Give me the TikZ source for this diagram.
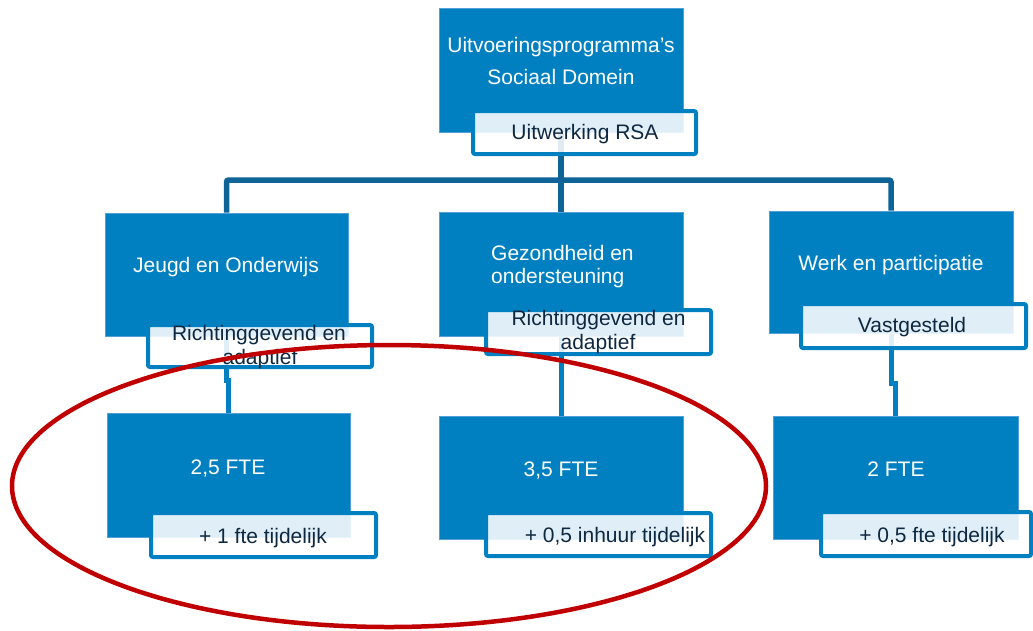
\documentclass[tikz,border=0pt]{standalone}
\usepackage{fontspec}
\setmainfont{Liberation Sans}
\usetikzlibrary{backgrounds}
\definecolor{boxblue}{RGB}{0,128,192}
\definecolor{boxedge}{RGB}{80,160,215}
\definecolor{treeblue}{RGB}{14,99,151}
\definecolor{navy}{RGB}{14,40,65}
\definecolor{ringred}{RGB}{192,0,0}
\tikzset{
  bluebox/.style={rectangle, fill=boxblue, draw=boxedge, line width=0.8pt, inner sep=0pt},
  labbox/.style={rectangle, fill=white, fill opacity=0.88, draw=boxblue, draw opacity=1, line width=4pt, rounded corners=2pt, inner sep=0pt},
  wtxt/.style={text=white, font=\fontsize{21pt}{25pt}\selectfont, inner sep=0pt, anchor=mid, yshift=-5pt},
  dtxt/.style={text=navy, font=\fontsize{21pt}{25pt}\selectfont, inner sep=0pt, anchor=mid, yshift=-5pt},
  tree/.style={draw=treeblue, line width=5.5pt, rounded corners=2pt},
  link/.style={draw=boxblue, line width=5pt},
  ring/.style={draw=ringred, line width=4.5pt}
}
\begin{document}
\begin{tikzpicture}[x=1pt,y=-1pt]
\useasboundingbox (0,0) rectangle (1033,630);
% blue boxes
\node[bluebox, minimum width=244pt, minimum height=124pt] (top) at (561,70) {};
\node[bluebox, minimum width=243pt, minimum height=123pt] (jeugd) at (226.5,274.5) {};
\node[bluebox, minimum width=244pt, minimum height=124pt] (gez) at (561,274) {};
\node[bluebox, minimum width=244pt, minimum height=122pt] (werk) at (891,272) {};
\node[bluebox, minimum width=243pt, minimum height=124pt] (fte1) at (228.5,475) {};
\node[bluebox, minimum width=244pt, minimum height=123pt] (fte2) at (561,477.5) {};
\node[bluebox, minimum width=245pt, minimum height=123pt] (fte3) at (895.5,477.5) {};
% connectors, behind the boxes
\coordinate (bus) at (561,180);
\coordinate (jk) at (226.5,380);
\coordinate (wk) at (891,383);
\begin{scope}[on background layer]
\draw[tree] (jeugd.north) |- (bus) -| (werk.north);
\draw[tree] (top.south) -- (gez.north);
\draw[link] (jeugd.south) -- (jk) -| (fte1.north);
\draw[link] (gez.south) -- (fte2.north);
\draw[link] (werk.south) -- (wk) -| (fte3.north);
\end{scope}
% label boxes
\node[labbox, minimum width=223pt, minimum height=43pt] (rsa) at (584.5,132.5) {};
\node[labbox, minimum width=224pt, minimum height=42pt] (lab1) at (260,346) {};
\node[labbox, minimum width=225pt, minimum height=44pt] (lab2) at (598.5,332) {};
\node[labbox, minimum width=225pt, minimum height=44pt] (lab3) at (913.5,326) {};
\node[labbox, minimum width=225pt, minimum height=44pt] (lab4) at (263.5,535) {};
\node[labbox, minimum width=225pt, minimum height=43pt] (lab5) at (598.5,534.5) {};
\node[labbox, minimum width=210pt, minimum height=44pt] (lab6) at (926,534) {};
% texts
\node[wtxt] (t1a) at (561,45) {Uitvoeringsprogramma’s};
\node[wtxt] (t1b) at (561,77) {Sociaal Domein};
\node[dtxt] (t1c) at (585,132) {Uitwerking RSA};
\node[wtxt] (t2a) at (226,265) {Jeugd en Onderwijs};
\node[wtxt, anchor=mid west] (t3a) at (491,253) {Gezondheid en};
\node[wtxt, anchor=mid west] (t3b) at (491,276) {ondersteuning};
\node[wtxt] (t4a) at (891,263) {Werk en participatie};
\node[dtxt] (l1a) at (259,333) {Richtinggevend en};
\node[dtxt] (l1b) at (260,357) {adaptief};
\node[dtxt] (l2a) at (598.5,318) {Richtinggevend en};
\node[dtxt] (l2b) at (598,342) {adaptief};
\node[dtxt] (l3a) at (912,325) {Vastgesteld};
\node[wtxt] (f1a) at (228,467) {2,5 FTE};
\node[wtxt] (f2a) at (561,469) {3,5 FTE};
\node[wtxt] (f3a) at (896,469) {2 FTE};
\node[dtxt] (l4a) at (263,536) {+ 1 fte tijdelijk};
\node[dtxt] (l5a) at (615,535) {+ 0,5 inhuur tijdelijk};
\node[dtxt] (l6a) at (932,535) {+ 0,5 fte tijdelijk};
% red ring
\draw[ring] (389,486) ellipse [x radius=377, y radius=141];
\end{tikzpicture}
\end{document}
